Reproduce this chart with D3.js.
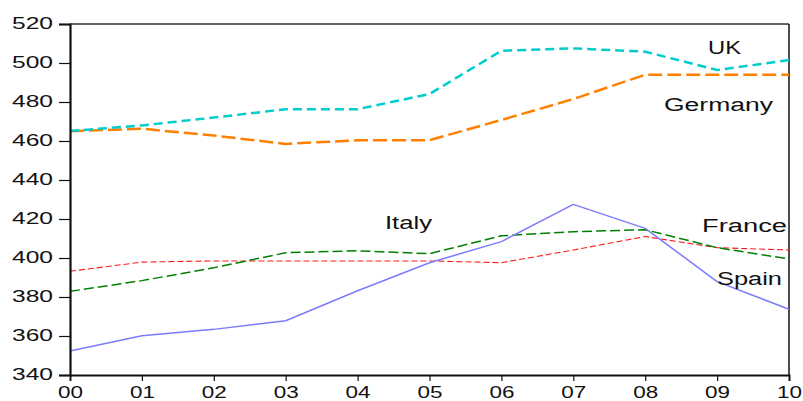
<!DOCTYPE html>
<html>
<head>
<meta charset="utf-8">
<script src="https://cdn.jsdelivr.net/npm/d3@7"></script>
<style>
  html, body { margin: 0; padding: 0; background: #fff; }
  svg { display: block; }
  text { font-family: "Liberation Sans", Arial, sans-serif; fill: #111; }
</style>
</head>
<body>
<svg id="chart" width="803" height="401"></svg>
<script>
// ---- data ----
const years = ["00","01","02","03","04","05","06","07","08","09","10"];
const uk      = [465.1, 468.0, 472.0, 476.3, 476.3, 484.1, 506.3, 507.5, 505.8, 496.4, 501.5];
const germany = [465.0, 466.3, 462.8, 458.5, 460.4, 460.4, 470.8, 481.5, 494.0, 494.0, 494.0];
const italy   = [382.9, 388.4, 395.0, 402.7, 403.7, 402.2, 411.4, 413.5, 414.5, 405.3, 399.5];
const france  = [393.2, 397.9, 398.5, 398.5, 398.5, 398.5, 397.6, 404.1, 411.0, 405.3, 404.1];
const spain   = [352.3, 360.1, 363.4, 367.8, 383.2, 397.6, 408.4, 427.5, 415.2, 387.9, 373.7];
const yTicks  = [340, 360, 380, 400, 420, 440, 460, 480, 500, 520];

const series = [
  { name: "France",  values: france,  color: "#ff1a1a", width: 1.1, dash: "6,3" },
  { name: "Italy",   values: italy,   color: "#008000", width: 1.5, dash: "10,4" },
  { name: "Spain",   values: spain,   color: "#7b7bff", width: 1.5, dash: null },
  { name: "Germany", values: germany, color: "#ff8000", width: 2.5, dash: "14,5" },
  { name: "UK",      values: uk,      color: "#00cccc", width: 2.5, dash: "9,5" }
];

// label positions (left x, baseline y, target width)
const labels = [
  { text: "UK",      x: 708, y: 54,  w: 33 },
  { text: "Germany", x: 664, y: 111, w: 109 },
  { text: "Italy",   x: 385, y: 229, w: 47 },
  { text: "France",  x: 702, y: 232, w: 85 },
  { text: "Spain",   x: 717, y: 285, w: 65 }
];

// ---- layout ----
const W = 803, H = 401;
const m = { left: 70, right: 14, top: 24, bottom: 26 };
const svg = d3.select("#chart");

const x = d3.scaleLinear().domain([0, years.length - 1]).range([m.left, W - m.right]);
const y = d3.scaleLinear().domain([340, 520]).range([H - m.bottom, m.top]);

// frame: top and right borders
svg.append("line").attr("x1", m.left).attr("x2", W - m.right)
  .attr("y1", m.top).attr("y2", m.top)
  .attr("stroke", "#333").attr("stroke-width", 1.5);
svg.append("line").attr("x1", W - m.right).attr("x2", W - m.right)
  .attr("y1", m.top).attr("y2", H - m.bottom)
  .attr("stroke", "#111").attr("stroke-width", 1.5);

// series lines
const line = d3.line().x((d, i) => x(i)).y(d => y(d));
series.forEach(s => {
  const p = svg.append("path")
    .datum(s.values)
    .attr("d", line)
    .attr("fill", "none")
    .attr("stroke", s.color)
    .attr("stroke-width", s.width)
    .attr("stroke-linejoin", "round");
  if (s.dash) p.attr("stroke-dasharray", s.dash);
});

// left axis
const yAxis = d3.axisLeft(y).tickValues(yTicks).tickSize(11).tickPadding(6).tickFormat(d3.format("d"));
const gy = svg.append("g").attr("transform", `translate(${m.left},0)`).call(yAxis);
gy.select(".domain").attr("stroke", "#111").attr("stroke-width", 2.2);
gy.selectAll(".tick line").attr("stroke", "#111").attr("stroke-width", 1.2);
gy.selectAll(".tick text")
  .attr("font-size", 16.5)
  .attr("dy", "0.3em")
  .attr("fill", "#111")
  .attr("textLength", 41)
  .attr("lengthAdjust", "spacingAndGlyphs");

// bottom axis
const xAxis = d3.axisBottom(x).tickValues(d3.range(years.length)).tickSize(6).tickPadding(4)
  .tickFormat(i => years[i]);
const gx = svg.append("g").attr("transform", `translate(0,${H - m.bottom})`).call(xAxis);
gx.select(".domain").attr("stroke", "#111").attr("stroke-width", 1.8);
gx.selectAll(".tick line").attr("stroke", "#111").attr("stroke-width", 1.2);
gx.selectAll(".tick text")
  .attr("font-size", 16.5)
  .attr("y", 11)
  .attr("dy", "0.71em")
  .attr("fill", "#111")
  .attr("textLength", 25)
  .attr("lengthAdjust", "spacingAndGlyphs");

// series labels
svg.selectAll("text.lbl").data(labels).enter().append("text")
  .attr("class", "lbl")
  .attr("x", d => d.x).attr("y", d => d.y)
  .attr("font-size", 18)
  .attr("textLength", d => d.w)
  .attr("lengthAdjust", "spacingAndGlyphs")
  .text(d => d.text);
</script>
</body>
</html>
